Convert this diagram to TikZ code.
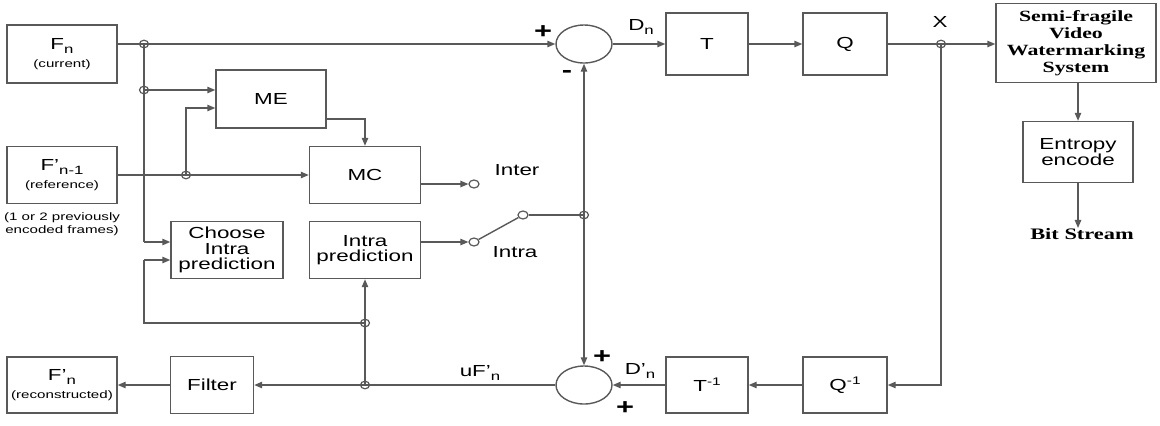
\documentclass[tikz,border=0pt]{standalone}
\usepackage{fontspec}
\setmainfont{Liberation Sans}[FakeStretch=1.4]
\newfontfamily\sfb{Liberation Serif}[FakeStretch=1.4]
\usetikzlibrary{arrows.meta,shapes.geometric}
\newcommand{\mysub}[1]{\raisebox{-0.5ex}{\fontsize{6}{6}\selectfont #1}}
\newcommand{\mysup}[1]{\raisebox{0.75ex}{\fontsize{5.5}{5.5}\selectfont #1}}
\newcommand{\smalltxt}[1]{{\fontsize{5.4}{6}\selectfont #1}}
\begin{document}
\begin{tikzpicture}[x=0.5pt,y=-0.5pt,
  line/.style={draw=black!65, line width=0.7pt},
  arr/.style={line, -{Triangle[length=4pt,width=3.2pt]}},
  box/.style={draw=black!65, line width=0.7pt, inner sep=0pt, align=center, font=\fontsize{8}{7.6}\selectfont},
  sumc/.style={draw=black!65, line width=0.7pt, ellipse, minimum width=28pt, minimum height=19pt, inner sep=0pt},
  jn/.style={draw=black!65, line width=0.6pt, ellipse, minimum width=4.5pt, minimum height=3.8pt, inner sep=0pt},
  contact/.style={draw=black!65, fill=white, line width=0.6pt, ellipse, minimum width=5pt, minimum height=4pt, inner sep=0pt},
  lab/.style={inner sep=0pt, font=\fontsize{8}{8}\selectfont},
  small/.style={inner sep=0pt, align=center, font=\fontsize{5.4}{6.5}\selectfont},
  sign/.style={inner sep=0pt, font=\fontsize{11}{11}\selectfont\bfseries}]
\path[use as bounding box] (0,0) rectangle (1160,425);

% boxes
\node[box, minimum width=55pt, minimum height=29pt] (Fn) at (62,54) {F\mysub{n}\\[1.5pt]\smalltxt{(current)}};
\node[box, minimum width=55pt, minimum height=28.5pt] (Fp) at (62,175) {F'\mysub{n-1}\\[1.5pt]\smalltxt{(reference)}};
\node[small] (note) at (62,224) {(1 or 2 previously\\encoded frames)};
\node[box, minimum width=55pt, minimum height=29pt] (ME) at (271,99) {ME};
\node[box, minimum width=55.5pt, minimum height=28.5pt] (MC) at (365,175) {MC};
\node[box, minimum width=56pt, minimum height=28.5pt] (CI) at (227,250) {Choose\\Intra\\prediction};
\node[box, minimum width=55.5pt, minimum height=28.5pt] (IP) at (365,250) {Intra\\prediction};
\node[box, minimum width=41.5pt, minimum height=28.5pt] (Fil) at (212,385) {Filter};
\node[box, minimum width=55pt, minimum height=28pt] (Fr) at (62,385) {F'\mysub{n}\\[1.5pt]\smalltxt{(reconstructed)}};
\node[box, minimum width=41pt, minimum height=31pt] (T) at (707,44) {T};
\node[box, minimum width=42pt, minimum height=31pt] (Q) at (845,44) {Q};
\node[box, minimum width=80pt, minimum height=39.5pt, font=\sfb\bfseries\fontsize{7.8}{8.6}\selectfont] (SF) at (1076,43) {Semi-fragile\\Video\\Watermarking\\System};
\node[box, minimum width=55pt, minimum height=30.5pt, font=\fontsize{8}{8}\selectfont] (EE) at (1078,152) {Entropy\\encode};
\node[lab, font=\sfb\bfseries\fontsize{8}{8}\selectfont] (BS) at (1082,234) {Bit Stream};
\node[box, minimum width=41pt, minimum height=28pt] (Ti) at (707,385) {T\mysup{-1}};
\node[box, minimum width=42pt, minimum height=28pt] (Qi) at (845,385) {Q\mysup{-1}};
\node[sumc] (S1) at (584,44) {};
\node[sumc] (S2) at (584,385) {};

% junctions and switch contacts
\node[jn] (j1) at (144,44) {};
\node[jn] (j2) at (144,90) {};
\node[jn] (j3) at (186,175) {};
\node[jn] (j4) at (584,215) {};
\node[jn] (j5) at (941,44) {};
\node[jn] (j6) at (365,385) {};
\node[jn] (j7) at (365,323) {};
\node[contact] (ci) at (474,184) {};
\node[contact] (ca) at (474,242) {};
\node[contact] (cc) at (523,215) {};

\coordinate (a1) at (144,242);
\coordinate (a2) at (186,108);
\coordinate (a3) at (365,119);
\coordinate (a4) at (941,385);
\coordinate (a5) at (144,323);
\coordinate (a6) at (144,260);

% connectors
\draw[arr] (Fn.east |- j1) -- (S1.west);
\draw[line] (j1.center) -- (a1);
\draw[arr] (a1) -- (CI.west |- a1);
\draw[arr] (j2.center) -- (ME.west |- j2);
\draw[arr] (Fp.east |- j3) -- (MC.west |- j3);
\draw[arr] (j3.center) -- (a2) -- (ME.west |- a2);
\draw[arr] (ME.east |- a3) -- (a3) -- (MC.north);
\draw[arr] (MC.east |- ci) -- (ci.west);
\draw[arr] (IP.east |- ca) -- (ca.west);
\draw[line] (ca) -- (cc);
\draw[line] (cc) -- (j4.center);
\draw[arr] (j4.center) -- (S1.south);
\draw[arr] (j4.center) -- (S2.north);
\draw[arr] (S1.east) -- (T.west);
\draw[arr] (T.east) -- (Q.west);
\draw[arr] (Q.east) -- (SF.west |- Q.east);
\draw[arr] (j5.center) -- (a4) -- (Qi.east);
\draw[arr] (Qi.west) -- (Ti.east);
\draw[arr] (Ti.west) -- (S2.east);
\draw[arr] (S2.west) -- (Fil.east);
\draw[arr] (Fil.west) -- (Fr.east);
\draw[arr] (j6.center) -- (IP.south);
\draw[line] (j7.center) -- (a5) -- (a6);
\draw[arr] (a6) -- (CI.west |- a6);
\draw[arr] (SF.south -| EE.north) -- (EE.north);
\draw[arr] (EE.south) -- (EE.south |- BS.north);

% labels
\node[sign] (p1) at (543,32) {+};
\node[sign] (m1) at (567,74) {-};
\node[lab] (Dn) at (641,27) {D\mysub{n}};
\node[lab] (X) at (940,22) {X};
\node[lab] (inter) at (517,170) {Inter};
\node[lab] (intra) at (515,252) {Intra};
\node[lab] (uF) at (480,373) {uF'\mysub{n}};
\node[lab] (Dp) at (640,371) {D'\mysub{n}};
\node[sign] (p2) at (602,357) {+};
\node[sign] (p3) at (625,408) {+};
\end{tikzpicture}
\end{document}
